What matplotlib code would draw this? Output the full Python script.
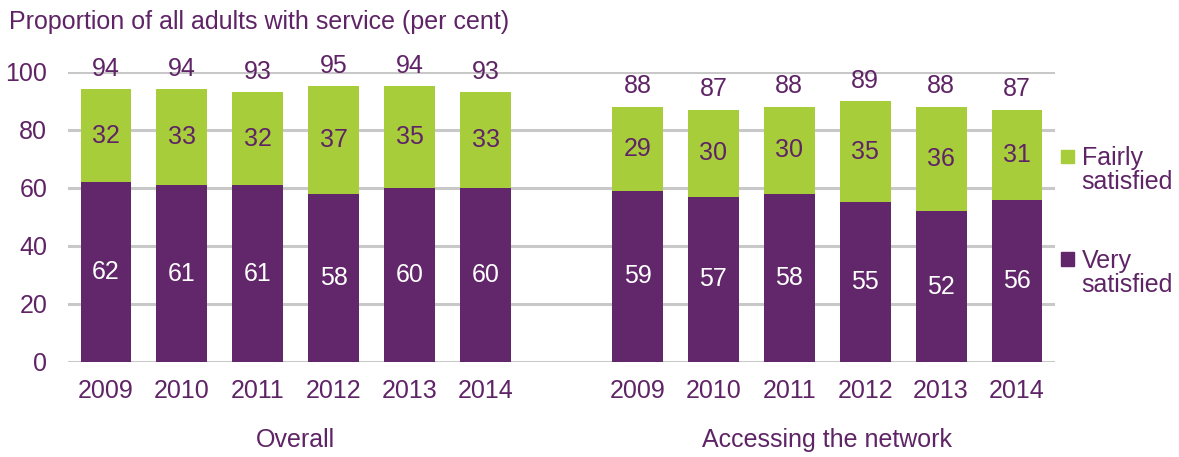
import matplotlib
matplotlib.use("Agg")
import matplotlib.pyplot as plt
from matplotlib.patches import Rectangle

plt.rcParams['font.family'] = ['Liberation Sans', 'DejaVu Sans']

years = ["2009", "2010", "2011", "2012", "2013", "2014"]
groups = ["Overall", "Accessing the network"]
very_overall = [62, 61, 61, 58, 60, 60]
fairly_overall = [32, 33, 32, 37, 35, 33]
total_overall = [94, 94, 93, 95, 94, 93]
very_network = [59, 57, 58, 55, 52, 56]
fairly_network = [29, 30, 30, 35, 36, 31]
total_network = [88, 87, 88, 89, 88, 87]

purple = "#62266a"
green = "#a8cd3a"
txt = "#5f2466"
grid = "#c8c8c8"
fs = 18

fig = plt.figure(figsize=(11.79, 4.57), dpi=100)
ax = fig.add_axes([0.0577, 0.2079, 0.8371, 0.6346])

pos = list(range(6)) + list(range(7, 13))
very = very_overall + very_network
fairly = fairly_overall + fairly_network
total = total_overall + total_network
labels = years + years

for y in range(0, 101, 20):
    ax.axhline(y, color=grid, lw=2.2, zorder=0)

w = 0.67
ax.bar(pos, very, width=w, color=purple, zorder=2)
ax.bar(pos, fairly, bottom=very, width=w, color=green, zorder=2)

for x, v, f, t in zip(pos, very, fairly, total):
    ax.text(x, v / 2, str(v), ha="center", va="center", color="white", fontsize=fs)
    ax.text(x, v + f / 2, str(f), ha="center", va="center", color=txt, fontsize=fs)
    ax.annotate(str(t), (x, v + f), xytext=(0, 6), textcoords="offset points",
                ha="center", va="bottom", color=txt, fontsize=fs, annotation_clip=False)

ax.set_xlim(-0.5, 12.5)
ax.set_ylim(0, 100)
ax.set_yticks(range(0, 101, 20))
ax.set_xticks(pos)
ax.set_xticklabels(labels)
ax.tick_params(axis="both", length=0, labelsize=fs, labelcolor=txt)
ax.tick_params(axis="x", pad=12)
ax.tick_params(axis="y", pad=15)
for s in ax.spines.values():
    s.set_visible(False)

ax.text(2.5, -0.269, groups[0], transform=ax.get_xaxis_transform(),
        ha="center", va="center", color=txt, fontsize=fs)
ax.text(9.5, -0.269, groups[1], transform=ax.get_xaxis_transform(),
        ha="center", va="center", color=txt, fontsize=fs)

fig.text(0.008, 0.952, "Proportion of all adults with service (per cent)",
         ha="left", va="center", color=txt, fontsize=fs)

# legend
for (yc, col, lab) in [(0.647, green, "Fairly\nsatisfied"), (0.423, purple, "Very\nsatisfied")]:
    fig.patches.append(Rectangle((0.9, yc - 0.004), 0.011, 0.029,
                                 transform=fig.transFigure, color=col))
    fig.text(0.9175, yc + 0.033, lab, ha="left", va="top", color=txt,
             fontsize=fs, linespacing=1.0)

fig.savefig("out.png", dpi=100)
